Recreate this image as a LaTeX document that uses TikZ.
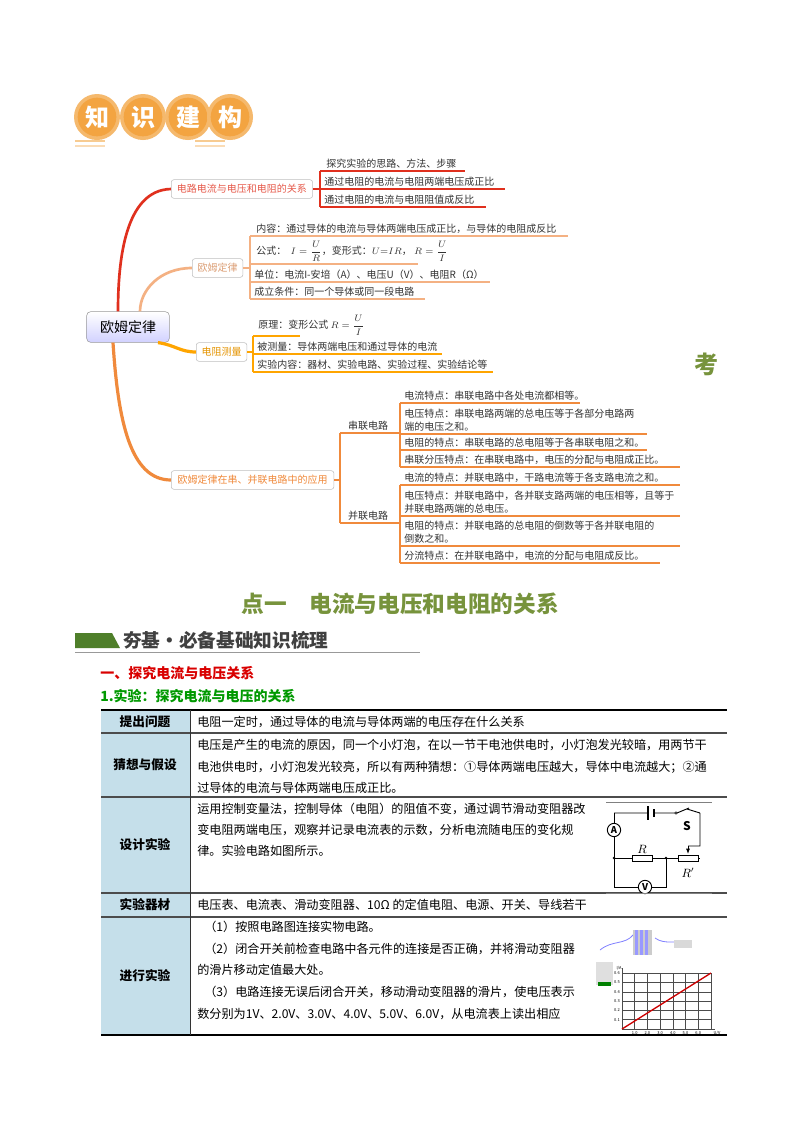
\documentclass[tikz,border=0pt]{standalone}
\usepackage{fontspec}
\setmainfont{Noto Sans CJK SC}
\usetikzlibrary{arrows.meta}
\definecolor{cR}{HTML}{E0301E}
\definecolor{cS}{HTML}{F4B183}
\definecolor{cO}{HTML}{FFA500}
\definecolor{cB}{HTML}{F08A3C}
\definecolor{gT}{HTML}{77933C}
\definecolor{gB}{HTML}{4F7F2A}
\definecolor{lb}{HTML}{C5DFEA}
\definecolor{badge}{HTML}{F2A848}
\tikzset{
 mm/.style={font=\fontsize{7.5}{10}\selectfont,inner sep=0pt,anchor=south west,text=black!80},
 brbox/.style={draw=black!25,rounded corners=2pt,fill=white,font=\fontsize{7.5}{10}\selectfont,inner sep=2pt,minimum height=14pt},
 tt/.style={font=\fontsize{9.1}{14}\selectfont,inner sep=0pt,anchor=west},
 th/.style={font=\bfseries\fontsize{9.5}{14}\selectfont,inner sep=0pt},
 grid/.style={black!70,line width=0.4pt},
 wire/.style={line width=0.7pt}
}
\newcommand\mmleaf[5]{\draw[#5,line width=0.8pt] (#1,#2)--(#3,#2);\node[mm] at (#1+4,#2-2) {#4};}
\begin{document}
\begin{tikzpicture}[x=0.75pt,y=-0.75pt]
\useasboundingbox (0,0) rectangle (800,1132);
\fill[white] (0,0) rectangle (800,1132);
% badge
\foreach \cx/\t [count=\i] in {97/知,143/识,188/建,230/构}{
 \fill[badge!80] (\cx,117) circle (23);
 \node[circle,fill=badge!90!orange,minimum size=29pt,inner sep=0pt,text=white,font=\bfseries\fontsize{18}{18}\selectfont] (b\i) at (\cx,117) {\t};}
\draw[badge!60,line width=2pt] (75,141)--(105,141) (195,141)--(225,141);
\draw[badge!40,line width=1pt] (75,146)--(105,146) (195,146)--(225,146);
% root
\node[draw=black!40,rounded corners=3pt,top color=white,bottom color=blue!18,minimum width=62pt,minimum height=23pt,font=\fontsize{10.5}{12}\selectfont] (root) at (128,327) {欧姆定律};
% branch curves
\draw[cR,line width=2pt] (root.north)++(-10,0) .. controls (118,260) and (125,190) .. (171,189);
\draw[cS,line width=2pt] (root.north)++(12,0) .. controls (140,290) and (160,268) .. (192,268);
\draw[cO,line width=2.4pt] (root.south)++(30,0) .. controls (175,345) and (180,352) .. (196,352);
\draw[cB,line width=2.4pt] (root.south)++(-15,0) .. controls (118,420) and (130,480) .. (171,480);
% branch boxes
\node[brbox,text=cR!80,anchor=west,minimum width=106pt] (b1) at (171,189) {电路电流与电压和电阻的关系};
\node[brbox,text=cS!90!black,anchor=west,minimum width=38pt] (b2) at (192,268) {欧姆定律};
\node[brbox,text=cO!90!black,anchor=west,minimum width=38pt] (b3) at (196,352) {电阻测量};
\node[brbox,text=cB,anchor=west,minimum width=122pt] (b4) at (171,480) {欧姆定律在串、并联电路中的应用};
% branch 1 leaves
\draw[cR,line width=0.8pt] (b1.east)--(320,189) (320,171)--(320,207);
\node[mm] (l11) at (326,169) {探究实验的思路、方法、步骤};
\draw[cR,line width=0.8pt] (320,171)--(465,171);
\mmleaf{320}{189}{505}{通过电阻的电流与电阻两端电压成正比}{cR}
\mmleaf{320}{207}{486}{通过电阻的电流与电阻阻值成反比}{cR}
% branch 2
\draw[cS,line width=0.8pt] (b2.east)--(250,268) (250,236)--(250,299);
\node[mm] (l21) at (256,234) {内容：通过导体的电流与导体两端电压成正比，与导体的电阻成反比};
\draw[cS,line width=0.8pt] (250,236)--(568,236);
\draw[cS,line width=0.8pt] (250,264)--(418,264);
\node[mm,anchor=west] (l22) at (256,251) {公式：\ \ $\displaystyle I=\frac{U}{R}$，变形式：$U{=}IR$，\ $\displaystyle R=\frac{U}{I}$};
\mmleaf{250}{282}{490}{单位：电流I-安培（A）、电压U（V）、电阻R（Ω）}{cS}
\mmleaf{250}{299}{425}{成立条件：同一个导体或同一段电路}{cS}
% branch 3
\draw[cO,line width=0.8pt] (b3.east)--(253,352) (253,336)--(253,372);
\node[mm,anchor=west] (l31) at (258,325) {原理：变形公式 $\displaystyle R=\frac{U}{I}$};
\draw[cO,line width=0.8pt] (253,336)--(300,336);
\mmleaf{253}{354}{442}{被测量：导体两端电压和通过导体的电流}{cO}
\mmleaf{253}{372}{493}{实验内容：器材、实验电路、实验过程、实验结论等}{cO}
% branch 4
\draw[cB,line width=0.8pt] (b4.east)--(340,480) (340,433)--(340,523);
\node[mm,anchor=south] (s1) at (368,431) {串联电路};
\node[mm,anchor=south] (s2) at (368,521) {并联电路};
\draw[cB,line width=0.8pt] (340,433)--(400,433) (340,523)--(400,523);
\draw[cB,line width=0.8pt] (400,403)--(400,467) (400,485)--(400,563);
\mmleaf{400}{403}{580}{电流特点：串联电路中各处电流都相等。}{cB}
\draw[cB,line width=0.8pt] (400,434)--(647,434);
\node[mm,align=left] (t2) at (404,432) {电压特点：串联电路两端的总电压等于各部分电路两\\端的电压之和。};
\mmleaf{400}{450}{647}{电阻的特点：串联电路的总电阻等于各串联电阻之和。}{cB}
\mmleaf{400}{467}{680}{串联分压特点：在串联电路中，电压的分配与电阻成正比。}{cB}
\mmleaf{400}{485}{680}{电流的特点：并联电路中，干路电流等于各支路电流之和。}{cB}
\draw[cB,line width=0.8pt] (400,516)--(680,516);
\node[mm,align=left] (t6) at (404,514) {电压特点：并联电路中，各并联支路两端的电压相等，且等于\\并联电路两端的总电压。};
\draw[cB,line width=0.8pt] (400,546)--(680,546);
\node[mm,align=left] (t7) at (404,544) {电阻的特点：并联电路的总电阻的倒数等于各并联电阻的\\倒数之和。};
\mmleaf{400}{563}{660}{分流特点：在并联电路中，电流的分配与电阻成反比。}{cB}
\node[text=gT,font=\bfseries\fontsize{18}{18}\selectfont] (kao) at (706,364) {考};
% headings
\node[text=gT,font=\bfseries\fontsize{17}{20}\selectfont] (h1) at (400,604) {点一\quad 电流与电压和电阻的关系};
\fill[gB] (75,633)--(112,633)--(120,648)--(75,648)--cycle;
\node[anchor=west,text=black!75,font=\bfseries\fontsize{14}{16}\selectfont,inner sep=0pt] (h2) at (123,640) {夯基·必备基础知识梳理};
\draw[black!40,line width=0.6pt] (75,652)--(420,652);
\node[anchor=west,text=red!85!black,font=\bfseries\fontsize{10.5}{12}\selectfont,inner sep=0pt] (h3) at (100,673) {一、探究电流与电压关系};
\node[anchor=west,text=green!60!black,font=\bfseries\fontsize{10.5}{12}\selectfont,inner sep=0pt] (h4) at (100,696) {1.实验：探究电流与电压的关系};
% table
\fill[lb] (101,710) rectangle (190,1035);
\draw[black,line width=1.2pt] (101,710)--(727,710);
\foreach \yy in {733,797,893,917}{\draw[black!70,line width=0.8pt] (101,\yy)--(727,\yy);}
\draw[black,line width=1pt] (101,1035)--(727,1035);
\draw[black!80,line width=0.6pt] (190,710)--(190,1035);
\node[th] (r1) at (145,722) {提出问题};
\node[th] (r2) at (145,765) {猜想与假设};
\node[th] (r3) at (145,845) {设计实验};
\node[th] (r4) at (145,905) {实验器材};
\node[th] (r5) at (145,976) {进行实验};
\node[tt] (c1) at (197,722) {电阻一定时，通过导体的电流与导体两端的电压存在什么关系};
\node[tt] (c2a) at (197,745) {电压是产生的电流的原因，同一个小灯泡，在以一节干电池供电时，小灯泡发光较暗，用两节干};
\node[tt] (c2b) at (197,767) {电池供电时，小灯泡发光较亮，所以有两种猜想：①导体两端电压越大，导体中电流越大；②通};
\node[tt] (c2c) at (197,788) {过导体的电流与导体两端电压成正比。};
\node[tt] (c3a) at (197,809) {运用控制变量法，控制导体（电阻）的阻值不变，通过调节滑动变阻器改};
\node[tt] (c3b) at (197,830) {变电阻两端电压，观察并记录电流表的示数，分析电流随电压的变化规};
\node[tt] (c3c) at (197,851) {律。实验电路如图所示。};
\node[tt] (c4) at (197,905) {电压表、电流表、滑动变阻器、10Ω 的定值电阻、电源、开关、导线若干};
\node[tt] (c5a) at (204,927) {（1）按照电路图连接实物电路。};
\node[tt] (c5b) at (204,949) {（2）闭合开关前检查电路中各元件的连接是否正确，并将滑动变阻器};
\node[tt] (c5c) at (197,970) {的滑片移动定值最大处。};
\node[tt] (c5d) at (204,992) {（3）电路连接无误后闭合开关，移动滑动变阻器的滑片，使电压表示};
\node[tt] (c5e) at (197,1014) {数分别为1V、2.0V、3.0V、4.0V、5.0V、6.0V，从电流表上读出相应};
% circuit
\coordinate (tl) at (614,813); \coordinate (tr) at (700,813);
\coordinate (j1) at (614,858); \coordinate (j2) at (666,858);
\draw[wire] (tl)--(648,813) (654,813)--(675,813) (687,809)--(700,813) (tr)--(700,846)--(688,846);
\draw[wire,-{Latex[length=4pt]}] (688,846)--(688,854);
\draw[line width=0.9pt] (648,806)--(648,820) (654,809)--(654,817);
\draw (676,813) circle (1.2);
\draw[wire] (677,813)--(689,808);
\node[font=\bfseries\fontsize{9}{9}\selectfont,inner sep=0pt] (S) at (687,826) {S};
\draw[wire] (tl)--(j1)--(632,858) (652,858)--(j2)--(678,858) (698,858)--(700,858);
\node[circle,draw,fill=white,line width=0.7pt,inner sep=0pt,minimum size=10pt,font=\bfseries\fontsize{7}{7}\selectfont] (Am) at (614,830) {A};
\draw[wire,fill=white] (632,855) rectangle (652,861);
\draw[wire,fill=white] (678,855) rectangle (698,861);
\node[font=\fontsize{9}{9}\selectfont,inner sep=0pt] (R) at (642,849) {$R$};
\node[font=\fontsize{9}{9}\selectfont,inner sep=0pt] (Rp) at (688,873) {$R'$};
\fill (j1) circle (1.3) (j2) circle (1.3);
\draw[wire] (j1)--(614,887)--(666,887)--(j2);
\node[circle,draw,fill=white,line width=0.7pt,inner sep=0pt,minimum size=10pt,font=\bfseries\fontsize{7}{7}\selectfont] (Vm) at (645,887) {V};
\draw[black!50,line width=0.6pt] (606,802)--(712,802) (606,893)--(712,893);
% photo + graph
\draw[blue!50,line width=0.6pt] (600,950) .. controls (612,940) and (625,945) .. (633,935) (655,938) .. controls (665,945) and (675,940) .. (685,943);
\fill[gray!40] (633,930) rectangle (652,955);
\foreach \k in {635,640,645}{\fill[blue!40] (\k,930) rectangle (\k+3,955);}
\fill[gray!30] (674,940) rectangle (692,948);
\fill[gray!25] (596,962) rectangle (613,985);
\fill[green!50!black] (598,982) rectangle (611,986);
\foreach \i in {0,...,7}{\draw[grid] (622+12.7*\i,973)--(622+12.7*\i,1029);}
\foreach \i in {0,...,6}{\draw[grid] (622,1029-9.3*\i)--(711,1029-9.3*\i);}
\draw[grid] (622,968)--(622,1029)--(715,1029);
\draw[red!80!black,line width=1pt] (622,1029)--(711,973);
\foreach \i/\l in {1/0.1,2/0.2,3/0.3,4/0.4,5/0.5,6/0.6}{\node[font=\fontsize{3}{3}\selectfont,inner sep=0pt,anchor=east] at (620,1029-9.3*\i) {\l};}
\foreach \i/\l in {1/1.0,2/2.0,3/3.0,4/4.0,5/5.0,6/6.0}{\node[font=\fontsize{3}{3}\selectfont,inner sep=0pt] at (622+12.7*\i,1033) {\l};}
\node[font=\fontsize{3}{3}\selectfont,inner sep=0pt] at (619,968) {I/A};
\node[font=\fontsize{3}{3}\selectfont,inner sep=0pt] at (717,1033) {U/V};
\end{tikzpicture}
\end{document}
